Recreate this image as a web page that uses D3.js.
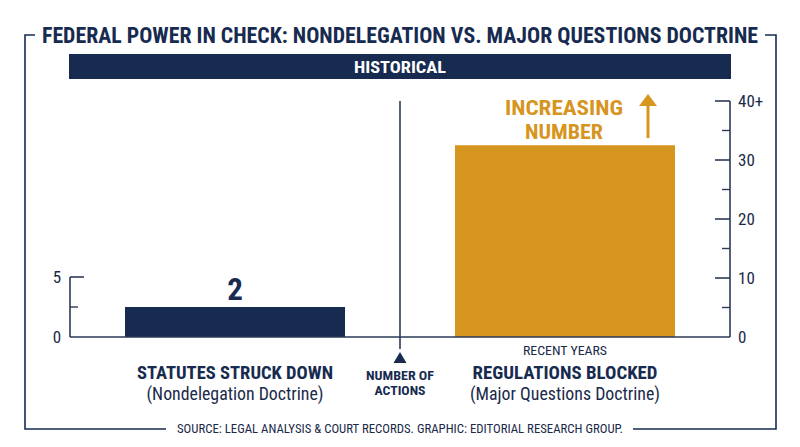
<!DOCTYPE html>
<html>
<head>
<meta charset="utf-8">
<script src="https://cdn.jsdelivr.net/npm/d3@7"></script>
<style>
  html, body { margin: 0; padding: 0; background: #ffffff; }
  svg { display: block; }
  text { font-family: "Roboto Condensed", "Liberation Sans Narrow", Roboto, "DejaVu Sans", sans-serif; }
</style>
</head>
<body>
<div id="chart"></div>
<script>
// ---------- data ----------
const titleText = "FEDERAL POWER IN CHECK: NONDELEGATION VS. MAJOR QUESTIONS DOCTRINE";
const bannerText = "HISTORICAL";
const categories = ["Statutes Struck Down", "Regulations Blocked"];
const barValues = [2.5, 32.5];           // bar heights
const valueLabels = ["2", null];
const catTitles = ["STATUTES STRUCK DOWN", "REGULATIONS BLOCKED"];
const catSubtitles = ["(Nondelegation Doctrine)", "(Major Questions Doctrine)"];
const catKickers = [null, "RECENT YEARS"];
const leftMajorTicks = [0, 5];
const leftMinorTicks = [2.5];
const leftTickLabels = ["0", "5"];
const rightMajorTicks = [0, 10, 20, 30, 40];
const rightMinorTicks = [5, 15, 25, 35];
const rightTickLabels = ["0", "10", "20", "30", "40+"];
const trendText = ["INCREASING", "NUMBER"];
const centerLabel = ["NUMBER OF", "ACTIONS"];
const sourceText = "SOURCE: LEGAL ANALYSIS & COURT RECORDS. GRAPHIC: EDITORIAL RESEARCH GROUP.";

// ---------- style ----------
const W = 800, H = 447;
const NAVY = "#172b50";
const TEXT = "#1a2a4a";
const GOLD = "#d6951f";
const AXIS = "#2b3a57";

const svg = d3.select("#chart").append("svg").attr("width", W).attr("height", H);

// ---------- scales ----------
const x = d3.scaleBand().domain(categories).range([70, 730])
  .paddingInner(1 / 3).paddingOuter(1 / 6);
const yLeft = d3.scaleLinear().domain([0, 5]).range([337, 277]);
const yRight = d3.scaleLinear().domain([0, 40]).range([337, 101]);
const scales = [yLeft, yRight];

// ---------- frame ----------
const frame = svg.append("g").attr("fill", "none").attr("stroke", NAVY).attr("stroke-width", 1.6);
frame.append("path").attr("d", "M35,35 H25 V429 H166");
frame.append("path").attr("d", "M765,35 H776 V429 H633");

// title
svg.append("text").attr("x", 400).attr("y", 43).attr("text-anchor", "middle")
  .attr("font-size", 22).attr("font-weight", 700).attr("fill", NAVY)
  .attr("textLength", 716).attr("lengthAdjust", "spacingAndGlyphs")
  .text(titleText);

// banner
svg.append("rect").attr("x", 69).attr("y", 54).attr("width", 662).attr("height", 25).attr("fill", NAVY);
svg.append("text").attr("x", 400).attr("y", 73).attr("text-anchor", "middle")
  .attr("font-size", 17).attr("font-weight", 700).attr("fill", "#ffffff")
  .attr("textLength", 92).attr("lengthAdjust", "spacingAndGlyphs")
  .text(bannerText);

// ---------- bars ----------
svg.selectAll("rect.bar").data(categories).enter().append("rect")
  .attr("class", "bar")
  .attr("x", d => x(d))
  .attr("width", x.bandwidth())
  .attr("y", (d, i) => scales[i](barValues[i]))
  .attr("height", (d, i) => scales[i](0) - scales[i](barValues[i]))
  .attr("fill", (d, i) => i === 0 ? NAVY : GOLD);

// value label
categories.forEach((c, i) => {
  if (valueLabels[i] == null) return;
  svg.append("text").attr("x", x(c) + x.bandwidth() / 2).attr("y", scales[i](barValues[i]) - 7)
    .attr("text-anchor", "middle").attr("font-size", 31).attr("font-weight", 700).attr("fill", NAVY)
    .text(valueLabels[i]);
});

// ---------- baseline ----------
svg.append("line").attr("x1", 70).attr("x2", 730).attr("y1", yLeft(0)).attr("y2", yLeft(0))
  .attr("stroke", AXIS).attr("stroke-width", 1.6);

// ---------- left axis ----------
const la = svg.append("g");
la.append("line").attr("x1", 70).attr("x2", 70).attr("y1", yLeft(5)).attr("y2", yLeft(0))
  .attr("stroke", AXIS).attr("stroke-width", 1.6);
la.selectAll("line.maj").data(leftMajorTicks.filter(v => v > 0)).enter().append("line")
  .attr("x1", 70).attr("x2", 84).attr("y1", d => yLeft(d)).attr("y2", d => yLeft(d))
  .attr("stroke", AXIS).attr("stroke-width", 1.6);
la.selectAll("line.min").data(leftMinorTicks).enter().append("line")
  .attr("x1", 70).attr("x2", 78).attr("y1", d => yLeft(d)).attr("y2", d => yLeft(d))
  .attr("stroke", AXIS).attr("stroke-width", 1.4);
la.selectAll("text").data(leftMajorTicks).enter().append("text")
  .attr("x", 57).attr("y", d => yLeft(d) + 6).attr("text-anchor", "middle")
  .attr("font-size", 17).attr("fill", TEXT)
  .text((d, i) => leftTickLabels[i]);

// ---------- right axis ----------
const ra = svg.append("g");
ra.append("line").attr("x1", 730).attr("x2", 730).attr("y1", yRight(40)).attr("y2", yRight(0))
  .attr("stroke", AXIS).attr("stroke-width", 1.6);
ra.selectAll("line.maj").data(rightMajorTicks.filter(v => v > 0)).enter().append("line")
  .attr("x1", 715).attr("x2", 730).attr("y1", d => yRight(d)).attr("y2", d => yRight(d))
  .attr("stroke", AXIS).attr("stroke-width", 1.6);
ra.selectAll("line.min").data(rightMinorTicks).enter().append("line")
  .attr("x1", 722).attr("x2", 730).attr("y1", d => yRight(d)).attr("y2", d => yRight(d))
  .attr("stroke", AXIS).attr("stroke-width", 1.4);
ra.selectAll("text").data(rightMajorTicks).enter().append("text")
  .attr("x", 738).attr("y", d => yRight(d) + 6).attr("text-anchor", "start")
  .attr("font-size", 17).attr("fill", TEXT)
  .text((d, i) => rightTickLabels[i]);

// ---------- center divider ----------
svg.append("line").attr("x1", 400).attr("x2", 400).attr("y1", 101).attr("y2", 349)
  .attr("stroke", AXIS).attr("stroke-width", 1.6);
svg.append("path").attr("d", "M400,352 L406.5,363 L393.5,363 Z").attr("fill", NAVY);
centerLabel.forEach((t, i) => {
  svg.append("text").attr("x", 400).attr("y", 380 + i * 15).attr("text-anchor", "middle")
    .attr("font-size", 12.5).attr("font-weight", 700).attr("fill", NAVY)
    .attr("textLength", i === 0 ? 68 : 51).attr("lengthAdjust", "spacingAndGlyphs")
    .text(t);
});

// ---------- trend annotation ----------
const trendX = x(categories[1]) + x.bandwidth() / 2 - 1;
trendText.forEach((t, i) => {
  svg.append("text").attr("x", trendX).attr("y", 114.5 + i * 24).attr("text-anchor", "middle")
    .attr("font-size", 20.5).attr("font-weight", 700).attr("fill", GOLD)
    .attr("textLength", i === 0 ? 118 : 78).attr("lengthAdjust", "spacingAndGlyphs")
    .text(t);
});
svg.append("line").attr("x1", 648).attr("x2", 648).attr("y1", 104).attr("y2", 138)
  .attr("stroke", GOLD).attr("stroke-width", 3);
svg.append("path").attr("d", "M648,94 L657,106 L639,106 Z").attr("fill", GOLD);

// ---------- category labels ----------
categories.forEach((c, i) => {
  const cx = x(c) + x.bandwidth() / 2;
  if (catKickers[i]) {
    svg.append("text").attr("x", cx).attr("y", 355).attr("text-anchor", "middle")
      .attr("font-size", 13).attr("fill", TEXT)
      .attr("textLength", 84).attr("lengthAdjust", "spacingAndGlyphs")
      .text(catKickers[i]);
  }
  svg.append("text").attr("x", cx).attr("y", 379).attr("text-anchor", "middle")
    .attr("font-size", 18).attr("font-weight", 700).attr("fill", NAVY)
    .attr("textLength", i === 0 ? 196 : 185).attr("lengthAdjust", "spacingAndGlyphs")
    .text(catTitles[i]);
  svg.append("text").attr("x", cx).attr("y", 400).attr("text-anchor", "middle")
    .attr("font-size", 18).attr("fill", TEXT)
    .attr("textLength", i === 0 ? 177 : 190).attr("lengthAdjust", "spacingAndGlyphs")
    .text(catSubtitles[i]);
});

// ---------- source ----------
svg.append("text").attr("x", 400).attr("y", 433).attr("text-anchor", "middle")
  .attr("font-size", 13).attr("fill", TEXT)
  .attr("textLength", 446).attr("lengthAdjust", "spacingAndGlyphs")
  .text(sourceText);
</script>
</body>
</html>
